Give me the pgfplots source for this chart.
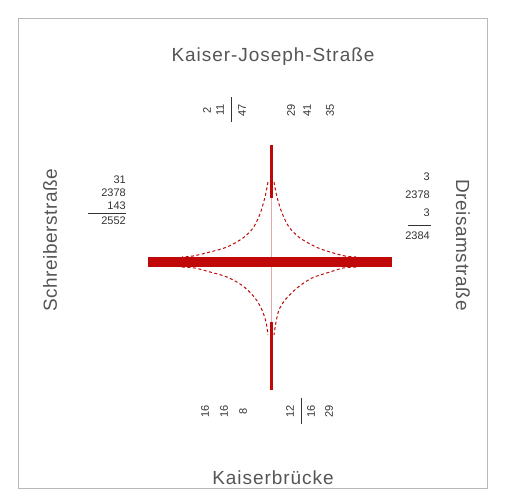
\documentclass[border=0pt]{standalone}
\usepackage{pgfplots}
\pgfplotsset{compat=1.18}
\usepackage{fontspec}
\setmainfont{Liberation Sans}
\definecolor{flow}{RGB}{192,8,8}
\definecolor{txt}{RGB}{85,85,85}
\begin{document}
\begin{tikzpicture}
\begin{axis}[width=505pt,height=498pt,scale only axis,
  xmin=0,xmax=505,ymin=0,ymax=498,y dir=reverse,hide axis,clip=false]
\path (axis cs:0,0) rectangle (axis cs:505,498);
\draw[gray!55,line width=0.8pt] (axis cs:18,18) rectangle (axis cs:487,488);
% flows
\addplot[flow!35,line width=0.6pt] coordinates {(271,190) (271,325)};
\addplot[flow,line width=10pt] coordinates {(148,262) (392,262)};
\addplot[flow,line width=3pt] coordinates {(271,145) (271,198)};
\addplot[flow,line width=3pt] coordinates {(271,322) (271,390)};
\addplot[flow,line width=1pt,dash pattern=on 3pt off 2.5pt,smooth] coordinates {(268,182) (265,197) (260,214) (253,228) (243,238) (227,247) (210,252) (193,256) (182,257)};
\addplot[flow,line width=1pt,dash pattern=on 3pt off 2.5pt,smooth] coordinates {(274,182) (277,197) (282,213) (289,227) (300,238) (316,247) (330,252) (345,256) (356,257)};
\addplot[flow,line width=1pt,dash pattern=on 3pt off 2.5pt,smooth] coordinates {(182,267) (195,268) (210,272) (227,277) (243,286) (255,298) (262,310) (266,322) (268,335)};
\addplot[flow,line width=1pt,dash pattern=on 3pt off 2.5pt,smooth] coordinates {(356,267) (343,268) (330,272) (312,278) (297,288) (285,300) (279,310) (276,322) (274,335)};
% street names
\node[txt,font=\fontsize{19}{22}\selectfont\addfontfeature{LetterSpace=5}] at (axis cs:273,57) {Kaiser-Joseph-Straße};
\node[txt,font=\fontsize{19}{22}\selectfont\addfontfeature{LetterSpace=5}] at (axis cs:273,478) {Kaiserbrücke};
\node[txt,rotate=90,font=\fontsize{19}{22}\selectfont\addfontfeature{LetterSpace=3}] at (axis cs:50,240) {Schreiberstraße};
\node[txt,rotate=-90,font=\fontsize{19}{22}\selectfont\addfontfeature{LetterSpace=3}] at (axis cs:463,245) {Dreisamstraße};
% left numbers
\begin{scope}[every node/.style={font=\fontsize{11}{12}\selectfont,text=black!80,anchor=east,inner sep=0pt}]
\node at (axis cs:126,180) {31};
\node at (axis cs:126,193) {2378};
\node at (axis cs:126,206) {143};
\node at (axis cs:126,221) {2552};
\node at (axis cs:430,177) {3};
\node at (axis cs:430,195) {2378};
\node at (axis cs:430,213) {3};
\node at (axis cs:430,236) {2384};
\end{scope}
\draw[black!80,line width=0.6pt] (axis cs:88,213) -- (axis cs:126,213);
\draw[black!80,line width=0.6pt] (axis cs:408,225) -- (axis cs:431,225);
% top numbers
\begin{scope}[every node/.style={font=\fontsize{11}{12}\selectfont,text=black!80,rotate=90,inner sep=0pt}]
\node at (axis cs:207,110) {2};
\node at (axis cs:220,110) {11};
\node at (axis cs:242,110) {47};
\node at (axis cs:291,110) {29};
\node at (axis cs:307,110) {41};
\node at (axis cs:330,110) {35};
\node at (axis cs:205,411) {16};
\node at (axis cs:224,411) {16};
\node at (axis cs:243,411) {8};
\node at (axis cs:290,411) {12};
\node at (axis cs:311,411) {16};
\node at (axis cs:329,411) {29};
\end{scope}
\draw[black!80,line width=0.6pt] (axis cs:231,97) -- (axis cs:231,122);
\draw[black!80,line width=0.6pt] (axis cs:301,398) -- (axis cs:301,424);
\end{axis}
\end{tikzpicture}
\end{document}
